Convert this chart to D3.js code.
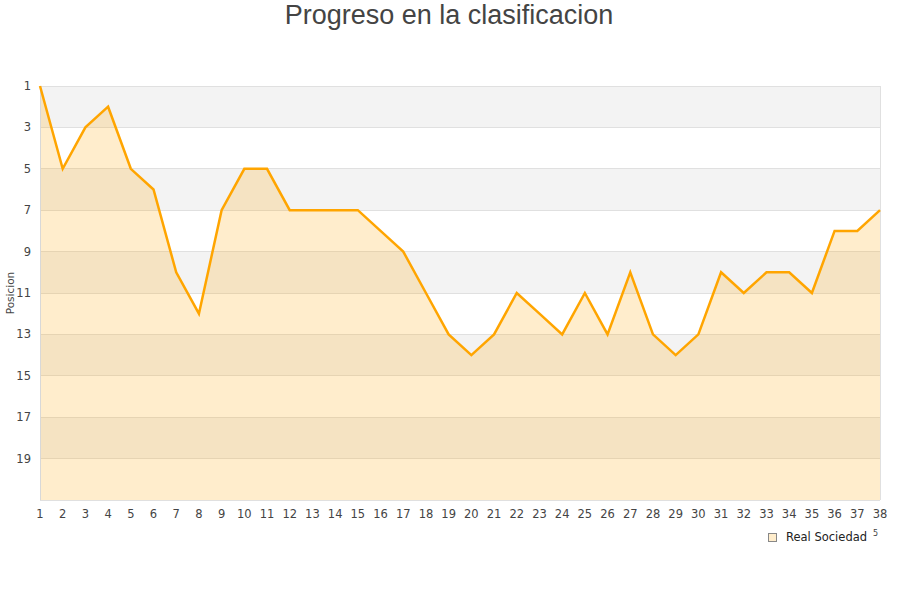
<!DOCTYPE html>
<html><head><meta charset="utf-8">
<script src="https://cdn.jsdelivr.net/npm/d3@7"></script>
<style>body{margin:0;background:#fff}svg{display:block}</style>
</head><body>
<svg id="c" width="900" height="600"></svg>
<script>
const jornadas = d3.range(1, 39);
const posiciones = [1,5,3,2,5,6,10,12,7,5,5,7,7,7,7,8,9,11,13,14,13,11,12,13,11,13,10,13,14,13,10,11,10,10,11,8,8,7];
const yTicks = [1,3,5,7,9,11,13,15,17,19];
const seriesName = "Real Sociedad";
const title = "Progreso en la clasificacion";
const yTitle = "Posicion";

const svg = d3.select("#c");
const L = 40, R = 880, T = 86, B = 500;
const x = d3.scaleLinear().domain([1, 38]).range([L, R]);
const y = d3.scaleLinear().domain([1, 21]).range([T, B]);

// bands
const bands = d3.range(1, 21, 2);
svg.selectAll("rect.band").data(bands).enter().append("rect")
  .attr("x", L).attr("width", R - L)
  .attr("y", d => y(d)).attr("height", d => y(d + 2) - y(d))
  .attr("fill", (d, i) => i % 2 === 0 ? "#f3f3f3" : "#ffffff");

// grid lines
svg.selectAll("line.grid").data(d3.range(1, 22, 2)).enter().append("line")
  .attr("x1", L).attr("x2", R).attr("y1", d => y(d)).attr("y2", d => y(d))
  .attr("stroke", "#e0e0e0").attr("stroke-width", 1).attr("shape-rendering", "crispEdges");

// area
const data = jornadas.map((j, i) => ({j, p: posiciones[i]}));
svg.append("path").datum(data)
  .attr("d", d3.area().x(d => x(d.j)).y0(B).y1(d => y(d.p)))
  .attr("fill", "#ffa500").attr("fill-opacity", 0.2);

// border
svg.append("line").attr("x1", L).attr("x2", L).attr("y1", T).attr("y2", B)
  .attr("stroke", "#d8d8d8").attr("shape-rendering", "crispEdges");
svg.append("line").attr("x1", R).attr("x2", R).attr("y1", T).attr("y2", B)
  .attr("stroke", "#e0e0e0").attr("shape-rendering", "crispEdges");

// line
svg.append("path").datum(data)
  .attr("d", d3.line().x(d => x(d.j)).y(d => y(d.p)))
  .attr("fill", "none").attr("stroke", "#ffa500").attr("stroke-width", 2.5)
  .attr("stroke-linejoin", "miter");

// y axis labels
svg.selectAll("text.yt").data(yTicks).enter().append("text")
  .attr("x", 31).attr("y", d => y(d) + 4).attr("text-anchor", "end")
  .attr("font-family", "DejaVu Sans, sans-serif").attr("font-size", 11.5)
  .attr("fill", "#444").text(d => d);

// x axis labels
svg.selectAll("text.xt").data(jornadas).enter().append("text")
  .attr("x", d => x(d)).attr("y", 518).attr("text-anchor", "middle")
  .attr("font-family", "DejaVu Sans, sans-serif").attr("font-size", 11.5)
  .attr("fill", "#444").text(d => d);

// title
svg.append("text").attr("x", 449).attr("y", 24).attr("text-anchor", "middle")
  .attr("font-family", "Liberation Sans, Arial, sans-serif").attr("font-size", 27)
  .attr("fill", "#444").text(title);

// y title
svg.append("text").attr("transform", "translate(14,293) rotate(-90)")
  .attr("text-anchor", "middle").attr("font-family", "DejaVu Sans, sans-serif")
  .attr("font-size", 10.5).attr("fill", "#444").text(yTitle);

// legend
svg.append("rect").attr("x", 768.5).attr("y", 533.5).attr("width", 8).attr("height", 8)
  .attr("fill", "#ffedcc").attr("stroke", "#888");
svg.append("text").attr("x", 786).attr("y", 541)
  .attr("font-family", "DejaVu Sans, sans-serif").attr("font-size", 11.5)
  .attr("fill", "#222").text(seriesName);
svg.append("text").attr("x", 873).attr("y", 536)
  .attr("font-family", "DejaVu Sans, sans-serif").attr("font-size", 8)
  .attr("fill", "#444").text("5");
</script>
</body></html>
